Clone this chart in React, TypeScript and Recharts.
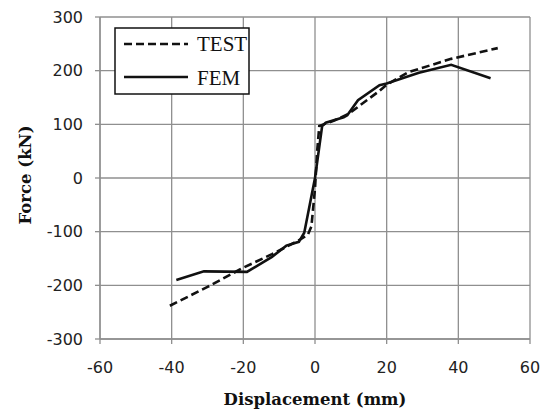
import React from 'react';
import { LineChart, Line, XAxis, YAxis, CartesianGrid } from 'recharts';

const testDisp = [-40.5, -30, -20, -12, -5, -2, -1, 0, 0.6, 1.2, 5, 9.5, 12.3, 17.9, 20, 26, 38, 51];
const testForce = [-238, -203, -167, -142, -118, -106, -90, -20, 50, 97, 106, 120, 134, 162, 174, 197, 222, 242];

const femDisp = [-38.7, -31, -19, -12, -8, -4.5, -3, 0, 2, 3, 8, 9, 12, 18, 20, 29, 38, 49];
const femForce = [-190, -174, -175, -147, -126, -119, -102, 0, 97, 103, 113, 117, 145, 173, 176, 196, 211, 186];

const xTicks = [-60, -40, -20, 0, 20, 40, 60];
const yTicks = [-300, -200, -100, 0, 100, 200, 300];

const testData = testDisp.map((x, i) => ({ x, y: testForce[i] }));
const femData = femDisp.map((x, i) => ({ x, y: femForce[i] }));

const GRID = '#8f8f8f';
const tickFont = { fontFamily: 'DejaVu Sans', fontSize: 16, fill: '#222' };
const titleFont = { fontFamily: 'DejaVu Serif', fontSize: 16.5, fontWeight: 700, fill: '#111' };

const YTitle = (props: any) => {
  const vb = props.viewBox || { x: 0, y: 17, width: 100, height: 322 };
  const cx = 31;
  const cy = vb.y + vb.height / 2 - 3;
  return (
    <text x={cx} y={cy} transform={`rotate(-90 ${cx} ${cy})`} textAnchor="middle" style={titleFont}>
      Force (kN)
    </text>
  );
};

const XTitle = (props: any) => {
  const vb = props.viewBox || { x: 100, y: 339, width: 430, height: 67 };
  const cx = vb.x + vb.width / 2;
  return (
    <text x={cx} y={405} textAnchor="middle" style={titleFont}>
      Displacement (mm)
    </text>
  );
};

export default function App() {
  return (
    <div style={{ position: 'absolute', left: 0, top: 0, width: 541, height: 414, background: '#fff' }}>
      <LineChart
        width={541}
        height={414}
        margin={{ top: 17, right: 11, bottom: 8, left: 0 }}
      >
        <CartesianGrid stroke={GRID} strokeWidth={1.3} horizontalValues={yTicks} verticalValues={xTicks} />
        <XAxis
          dataKey="x"
          type="number"
          domain={[-60, 60]}
          ticks={xTicks}
          height={67}
          tickSize={5}
          tickMargin={18}
          axisLine={{ stroke: GRID, strokeWidth: 1.3 }}
          tickLine={{ stroke: GRID, strokeWidth: 1.3 }}
          tick={tickFont}
          allowDuplicatedCategory={false}
          label={<XTitle />}
        />
        <YAxis
          type="number"
          domain={[-300, 300]}
          ticks={yTicks}
          width={100}
          tickSize={5}
          tickMargin={12}
          axisLine={{ stroke: GRID, strokeWidth: 1.3 }}
          tickLine={{ stroke: GRID, strokeWidth: 1.3 }}
          tick={tickFont}
          label={<YTitle />}
        />
        <Line
          data={testData}
          dataKey="y"
          type="linear"
          stroke="#111"
          strokeWidth={2.6}
          strokeDasharray="8 4"
          dot={false}
          isAnimationActive={false}
        />
        <Line
          data={femData}
          dataKey="y"
          type="linear"
          stroke="#111"
          strokeWidth={2.6}
          dot={false}
          isAnimationActive={false}
        />
      </LineChart>
      <svg
        width={136}
        height={68}
        style={{ position: 'absolute', left: 114, top: 27 }}
      >
        <rect x={1} y={1} width={134} height={66} fill="#fff" stroke="#111" strokeWidth={1.5} />
        <line x1={10} y1={17} x2={74} y2={17} stroke="#111" strokeWidth={2.6} strokeDasharray="8 4" />
        <line x1={10} y1={50} x2={74} y2={50} stroke="#111" strokeWidth={2.6} />
        <text x={83} y={24} style={{ fontFamily: 'Liberation Serif', fontSize: 21, fill: '#111' }}>TEST</text>
        <text x={83} y={58} style={{ fontFamily: 'Liberation Serif', fontSize: 21, fill: '#111' }}>FEM</text>
      </svg>
    </div>
  );
}
